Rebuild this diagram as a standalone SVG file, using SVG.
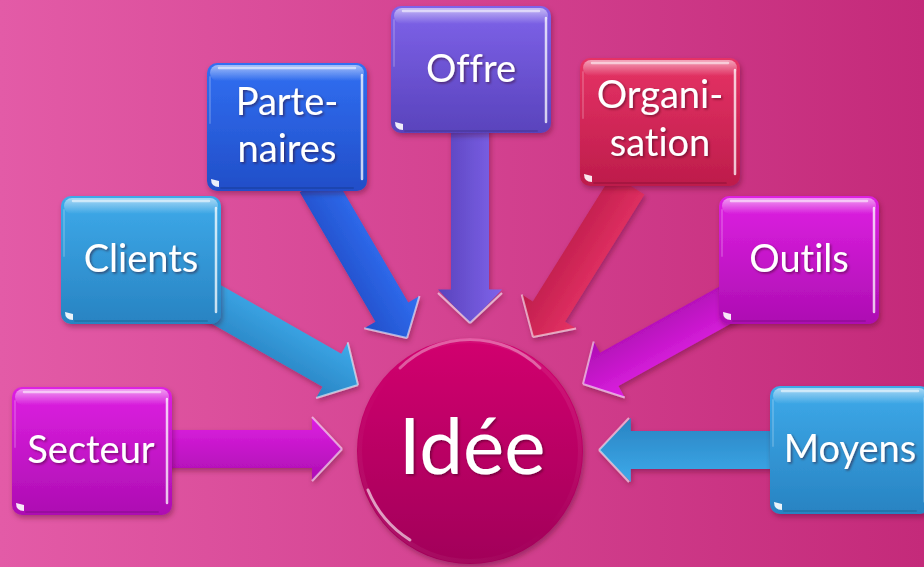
<svg xmlns="http://www.w3.org/2000/svg" xmlns:xlink="http://www.w3.org/1999/xlink" width="924" height="567" viewBox="0 0 924 567">
<defs>
<linearGradient id="bg" x1="0" y1="0" x2="1" y2="0">
<stop offset="0" stop-color="#e35ba7"/><stop offset="1" stop-color="#c42a7a"/>
</linearGradient>
<linearGradient id="gMag" x1="0" y1="0" x2="0" y2="1"><stop offset="0" stop-color="#de20e2"/><stop offset="1" stop-color="#ad0db2"/></linearGradient>
<linearGradient id="gCyan" x1="0" y1="0" x2="0" y2="1"><stop offset="0" stop-color="#3eaaea"/><stop offset="1" stop-color="#2883c2"/></linearGradient>
<linearGradient id="gBlue" x1="0" y1="0" x2="0" y2="1"><stop offset="0" stop-color="#316ff2"/><stop offset="1" stop-color="#214ec8"/></linearGradient>
<linearGradient id="gPurp" x1="0" y1="0" x2="0" y2="1"><stop offset="0" stop-color="#7f63ea"/><stop offset="1" stop-color="#5943bc"/></linearGradient>
<linearGradient id="gRed" x1="0" y1="0" x2="0" y2="1"><stop offset="0" stop-color="#e63365"/><stop offset="1" stop-color="#bd1c4b"/></linearGradient>
<linearGradient id="gIdea" x1="0" y1="0" x2="0" y2="1"><stop offset="0" stop-color="#d2066f"/><stop offset="1" stop-color="#a10059"/></linearGradient>
<linearGradient id="topHl" x1="0" y1="0" x2="0" y2="1"><stop offset="0" stop-color="#fff" stop-opacity="0.55"/><stop offset="1" stop-color="#fff" stop-opacity="0"/></linearGradient>
<linearGradient id="rimHl" x1="0" y1="0" x2="1" y2="1"><stop offset="0" stop-color="#fff" stop-opacity="0.1"/><stop offset="0.5" stop-color="#fff" stop-opacity="0"/><stop offset="0.85" stop-color="#fff" stop-opacity="0.05"/><stop offset="1" stop-color="#fff" stop-opacity="0.5"/></linearGradient>
<filter id="sh" x="-20%" y="-20%" width="140%" height="140%">
<feDropShadow dx="1.5" dy="3" stdDeviation="2.5" flood-color="#400020" flood-opacity="0.35"/>
</filter>
<filter id="tsh" x="-10%" y="-20%" width="120%" height="140%">
<feDropShadow dx="1.5" dy="1.5" stdDeviation="1" flood-color="#300018" flood-opacity="0.5"/>
</filter>
<g id="gloss">
<rect x="3" y="2" width="154" height="16" rx="8" fill="url(#topHl)"/>
<path d="M12 5 H148" stroke="#fff" stroke-opacity="0.55" stroke-width="2.5" stroke-linecap="round"/>
<path d="M155 12 V116" stroke="#fff" stroke-opacity="0.75" stroke-width="2.5" stroke-linecap="round"/>
<path d="M3 14 V60" stroke="#fff" stroke-opacity="0.18" stroke-width="2" stroke-linecap="round"/>
<path d="M14 125 H146" stroke="#000" stroke-opacity="0.12" stroke-width="2" stroke-linecap="round"/>
<path d="M4 116 Q4 124 12 124 L12 118 Z" fill="#fff" fill-opacity="0.9"/>
</g>
<path id="arr" d="M-180 -19 L-30 -19 L-30 -32 L0 0 L-30 32 L-30 19 L-180 19 Z"/>
<path id="head" d="M-30 -32 L0 0 M0 0 L-30 32" fill="none" stroke="#fff" stroke-opacity="0.55" stroke-width="2"/>
</defs>
<style>
.lbl{font-family:Lato,"Open Sans","Liberation Sans",sans-serif;font-size:38px;fill:#fff;text-anchor:middle;filter:url(#tsh);font-variant-ligatures:none;font-feature-settings:"liga" 0}
.big{font-size:78px}
.box{filter:url(#sh)}
</style>
<rect width="924" height="567" fill="url(#bg)"/>
<g id="connectors" filter="url(#sh)">
<g transform="translate(342,449)"><use href="#arr" fill="url(#gMag)"/><use href="#head"/></g>
<g transform="translate(358,385) rotate(29.6)"><use href="#arr" fill="url(#gCyan)"/><use href="#head"/></g>
<g transform="translate(407,338) rotate(59.7)"><use href="#arr" fill="url(#gBlue)"/><use href="#head"/></g>
<g transform="translate(470,323) rotate(90)"><use href="#arr" fill="url(#gPurp)" transform="scale(1.12,1)"/><use href="#head"/></g>
<g transform="translate(533,337) rotate(122)"><use href="#arr" fill="url(#gRed)"/><use href="#head"/></g>
<g transform="translate(583,384) rotate(151)"><use href="#arr" fill="url(#gMag)"/><use href="#head"/></g>
<g transform="translate(599,450) rotate(180)"><use href="#arr" fill="url(#gCyan)" transform="scale(1.06,1)"/><use href="#head"/></g>
</g>
<g id="idee">
<circle cx="470" cy="451" r="113" fill="url(#gIdea)" filter="url(#sh)"/>
<circle cx="470" cy="451" r="110" fill="none" stroke="url(#rimHl)" stroke-width="4" transform="rotate(90 470 451)"/>
<path d="M400 368 A100 100 0 0 1 540 368" fill="none" stroke="#fff" stroke-opacity="0.35" stroke-width="3" stroke-linecap="round"/>
<path d="M368 490 A108 108 0 0 0 410 540" fill="none" stroke="#fff" stroke-opacity="0.6" stroke-width="3" stroke-linecap="round"/>
<text class="lbl big" x="472" y="474">Idée</text>
</g>
<g id="secteur" class="box" transform="translate(12,387)">
<rect width="160" height="128" rx="10" fill="url(#gMag)"/><use href="#gloss"/>
</g>
<text class="lbl" x="91" y="463">Secteur</text>
<g id="clients" class="box" transform="translate(61,196)">
<rect width="160" height="128" rx="10" fill="url(#gCyan)"/><use href="#gloss"/>
</g>
<text class="lbl" x="141" y="272">Clients</text>
<g id="partenaires" class="box" transform="translate(207,63)">
<rect width="160" height="128" rx="10" fill="url(#gBlue)"/><use href="#gloss"/>
</g>
<text class="lbl" x="287" y="115">Parte-</text>
<text class="lbl" x="287" y="162">naires</text>
<g id="offre" class="box" transform="translate(391,6)">
<rect width="160" height="127" rx="10" fill="url(#gPurp)"/><use href="#gloss"/>
</g>
<text class="lbl" x="471" y="82">Offre</text>
<g id="organisation" class="box" transform="translate(580,58)">
<rect width="160" height="128" rx="10" fill="url(#gRed)"/><use href="#gloss"/>
</g>
<text class="lbl" x="660" y="108">Organi-</text>
<text class="lbl" x="660" y="156">sation</text>
<g id="outils" class="box" transform="translate(719,196)">
<rect width="160" height="128" rx="10" fill="url(#gMag)"/><use href="#gloss"/>
</g>
<text class="lbl" x="799" y="272">Outils</text>
<g id="moyens" class="box" transform="translate(770,386)">
<rect width="160" height="128" rx="10" fill="url(#gCyan)"/><use href="#gloss"/>
</g>
<text class="lbl" x="850" y="462">Moyens</text>
</svg>
